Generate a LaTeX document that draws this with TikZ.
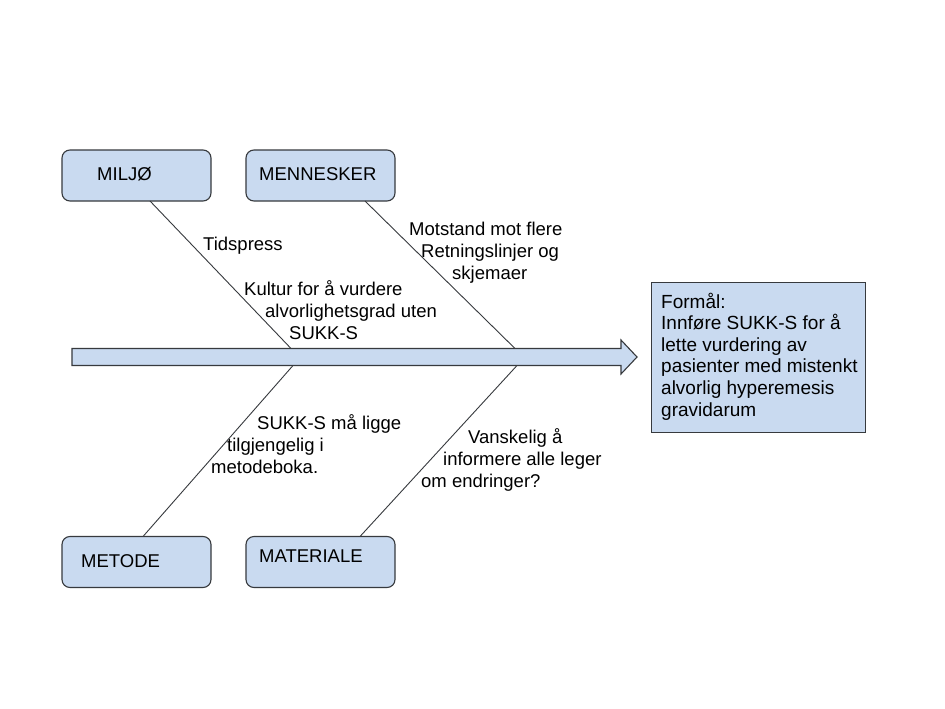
\documentclass[tikz,border=0pt]{standalone}
\usepackage{fontspec}
\setmainfont{Liberation Sans}
\definecolor{boxfill}{RGB}{201,218,240}
\definecolor{edge}{RGB}{55,58,62}
\begin{document}
\begin{tikzpicture}[x=1pt,y=-1pt,
  catbox/.style={draw=edge,line width=1.1pt,fill=boxfill,rounded corners=8pt,minimum width=149pt,minimum height=51pt,inner sep=0pt},
  lbl/.style={anchor=base west,inner sep=0pt,font=\fontsize{18.5}{22}\selectfont},
  bone/.style={draw=edge,line width=0.9pt}]
\useasboundingbox[fill=white] (0,0) rectangle (945,709);
% category boxes
\node[catbox] (miljo) at (136.5,175.5) {};
\node[catbox] (menn) at (320.5,175.5) {};
\node[catbox] (metode) at (136.5,562) {};
\node[catbox] (mat) at (320.5,562) {};
\node[lbl] (tmiljo) at (97,180.5) {MILJØ};
\node[lbl] (tmenn) at (259,180.5) {MENNESKER};
\node[lbl] (tmetode) at (81,567.5) {METODE};
\node[lbl] (tmat) at (259,562.5) {MATERIALE};
% spine arrow
\coordinate (s0) at (72,357);
\coordinate (tip) at (637,357);
\draw[draw=edge,line width=1.1pt,fill=boxfill,line join=miter]
  (72,348.5) -- (621,348.5) -- (621,340) -- (tip) -- (621,374) -- (621,365.5) -- (72,365.5) -- cycle;
% bone end points on the spine
\coordinate (ul) at (291,348.5);
\coordinate (ur) at (515,348.5);
\coordinate (ll) at (293,365.5);
\coordinate (lr) at (517,365.5);
\coordinate (miljoB) at (150,201);
\coordinate (mennB) at (365,201);
\coordinate (metodeT) at (143,536.5);
\coordinate (matT) at (360,536.5);
\draw[bone] (miljoB) -- (ul);
\draw[bone] (mennB) -- (ur);
\draw[bone] (ll) -- (metodeT);
\draw[bone] (lr) -- (matT);
% cause texts
\node[lbl] (tids) at (203,250.5) {Tidspress};
\node[lbl] (k1) at (244,295.5) {Kultur for å vurdere};
\node[lbl] (k2) at (265,317.5) {alvorlighetsgrad uten};
\node[lbl] (k3) at (289,339.5) {SUKK-S};
\node[lbl] (m1) at (409,235.5) {Motstand mot flere};
\node[lbl] (m2) at (421,257.5) {Retningslinjer og};
\node[lbl] (m3) at (452,279.5) {skjemaer};
\node[lbl] (s1) at (257,429) {SUKK-S må ligge};
\node[lbl] (s2) at (227,451) {tilgjengelig i};
\node[lbl] (s3) at (211,473) {metodeboka.};
\node[lbl] (v1) at (468,443) {Vanskelig å};
\node[lbl] (v2) at (443,465) {informere alle leger};
\node[lbl] (v3) at (421,487) {om endringer?};
% goal box
\node[draw=edge,line width=1.1pt,fill=boxfill,minimum width=214pt,minimum height=150pt,inner sep=0pt] (goal) at (758.5,357.5) {};
\node[anchor=base west,inner sep=0pt,align=left,font=\fontsize{19}{21.6}\selectfont] (gtxt) at (661,416)
  {Formål:\\Innføre SUKK-S for å\\lette vurdering av\\pasienter med mistenkt\\alvorlig hyperemesis\\gravidarum};
\end{tikzpicture}
\end{document}
